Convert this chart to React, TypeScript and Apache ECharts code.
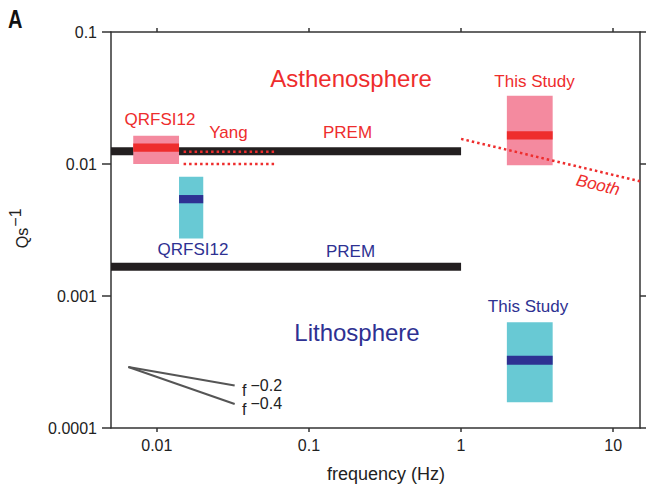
import React, { useEffect, useRef } from 'react';
import * as echarts from 'echarts';

// ---- Data (frequency in Hz, Qs^-1) ----
const freqMin = 0.005;
const freqMax = 15;
const qMin = 0.0001;
const qMax = 0.1;

const xTickValues = [0.01, 0.1, 1, 10];
const xTickLabels = ['0.01', '0.1', '1', '10'];
const yTickValues = [0.0001, 0.001, 0.01, 0.1];
const yTickLabels = ['0.0001', '0.001', '0.01', '0.1'];

// PREM reference values (Q = 80 asthenosphere, Q = 600 lithosphere)
const premAsthenosphere = [[0.005, 0.0125], [1, 0.0125]];
const premLithosphere = [[0.005, 1 / 600], [1, 1 / 600]];

// Boxes: [fLow, fHigh, qLow, qHigh]
const asthenosphereRanges = [
  [0.007, 0.014, 0.0100, 0.0164], // QRFSI12
  [2, 4, 0.0098, 0.0329], // This Study
];
const asthenosphereBest = [
  [0.007, 0.014, 0.0124, 0.0143],
  [2, 4, 0.0153, 0.0177],
];
const lithosphereRanges = [
  [0.014, 0.0202, 0.00273, 0.0080], // QRFSI12
  [2, 4, 0.000157, 0.000632], // This Study
];
const lithosphereBest = [
  [0.014, 0.0202, 0.00504, 0.00582],
  [2, 4, 0.000302, 0.000353],
];

// Yang (dotted)
const yangUpper = [[0.015, 0.0124], [0.06, 0.0124]];
const yangLower = [[0.015, 0.0100], [0.06, 0.0100]];
// Booth (dotted)
const booth = [[1, 0.0155], [15, 0.0074]];
// Reference slopes
const slopeM02 = [[0.0065, 0.00029], [0.0325, 0.00021]];
const slopeM04 = [[0.0065, 0.00029], [0.0325, 0.000152]];

// ---- Styles ----
const FONT = 'Liberation Sans, Arial, Helvetica, sans-serif';
const RED = '#ee2d2d';
const PINK = '#f48a9f';
const CYAN = '#68c9d4';
const NAVY = '#2e3192';
const AXIS = '#333333';

const fmt = (values: number[], labels: string[]) => (v: number) => {
  const i = values.findIndex((t) => Math.abs(Math.log10(v / t)) < 1e-6);
  return i >= 0 ? labels[i] : '';
};

const rectRender = (fill: string) => (params: any, api: any) => {
  const a = api.coord([api.value(0), api.value(3)]);
  const b = api.coord([api.value(1), api.value(2)]);
  return {
    type: 'rect',
    shape: { x: a[0], y: a[1], width: b[0] - a[0], height: b[1] - a[1] },
    style: { fill },
  };
};

const txt = (
  text: string,
  x: number,
  y: number,
  fill: string,
  size: number,
  extra: any = {}
) => ({
  type: 'text',
  x,
  y,
  rotation: extra.rotation || 0,
  scaleX: extra.scaleX || 1,
  silent: true,
  style: {
    text,
    fill,
    fontSize: size,
    fontFamily: FONT,
    fontWeight: extra.weight || 'normal',
    fontStyle: extra.style || 'normal',
    align: extra.align || 'center',
    verticalAlign: 'middle',
  },
});

export default function App() {
  const ref = useRef<HTMLDivElement>(null);

  useEffect(() => {
    const chart = echarts.init(ref.current!, null, { renderer: 'svg' });

    const baseX = {
      type: 'log',
      logBase: 10,
      min: freqMin,
      max: freqMax,
      splitLine: { show: false },
      minorTick: { show: false },
      axisLine: { show: true, lineStyle: { color: AXIS, width: 1.5 } },
    };
    const baseY = {
      type: 'log',
      logBase: 10,
      min: qMin,
      max: qMax,
      splitLine: { show: false },
      minorTick: { show: false },
      axisLine: { show: true, lineStyle: { color: AXIS, width: 1.5 } },
    };

    const option: any = {
      animation: false,
      backgroundColor: '#ffffff',
      grid: { left: 111, right: 6, top: 32, bottom: 58, containLabel: false, outerBoundsMode: 'none' },
      xAxis: [
        {
          ...baseX,
          position: 'bottom',
          axisTick: { show: true, length: 4, inside: false, customValues: xTickValues, lineStyle: { color: AXIS, width: 1.5 } },
          axisLabel: {
            show: true,
            margin: 9,
            fontSize: 16,
            color: '#222',
            fontFamily: FONT,
            customValues: xTickValues,
            formatter: fmt(xTickValues, xTickLabels),
          },
        },
        {
          ...baseX,
          position: 'top',
          axisTick: { show: true, length: 4, inside: false, customValues: xTickValues, lineStyle: { color: AXIS, width: 1.5 } },
          axisLabel: { show: false },
        },
      ],
      yAxis: [
        {
          ...baseY,
          position: 'left',
          axisTick: { show: true, length: 9, inside: false, customValues: yTickValues, lineStyle: { color: AXIS, width: 1.5 } },
          axisLabel: {
            show: true,
            margin: 14,
            fontSize: 16,
            color: '#222',
            fontFamily: FONT,
            customValues: yTickValues,
            formatter: fmt(yTickValues, yTickLabels),
          },
        },
        {
          ...baseY,
          position: 'right',
          axisTick: { show: true, length: 6, inside: false, customValues: yTickValues, lineStyle: { color: AXIS, width: 1.5 } },
          axisLabel: { show: false },
        },
      ],
      series: [
        {
          name: 'PREM asthenosphere',
          type: 'line',
          data: premAsthenosphere,
          symbol: 'none',
          z: 1,
          lineStyle: { color: '#231f20', width: 8, cap: 'butt' },
        },
        {
          name: 'PREM lithosphere',
          type: 'line',
          data: premLithosphere,
          symbol: 'none',
          z: 1,
          lineStyle: { color: '#231f20', width: 8, cap: 'butt' },
        },
        {
          name: 'Asthenosphere range',
          type: 'custom',
          data: asthenosphereRanges,
          z: 2,
          renderItem: rectRender(PINK),
        },
        {
          name: 'Lithosphere range',
          type: 'custom',
          data: lithosphereRanges,
          z: 2,
          renderItem: rectRender(CYAN),
        },
        {
          name: 'Asthenosphere best',
          type: 'custom',
          data: asthenosphereBest,
          z: 3,
          renderItem: rectRender(RED),
        },
        {
          name: 'Lithosphere best',
          type: 'custom',
          data: lithosphereBest,
          z: 3,
          renderItem: rectRender(NAVY),
        },
        {
          name: 'Yang upper',
          type: 'line',
          data: yangUpper,
          symbol: 'none',
          z: 4,
          lineStyle: { color: RED, width: 2.5, type: [2.5, 3] },
        },
        {
          name: 'Yang lower',
          type: 'line',
          data: yangLower,
          symbol: 'none',
          z: 4,
          lineStyle: { color: RED, width: 2.5, type: [2.5, 3] },
        },
        {
          name: 'Booth',
          type: 'line',
          data: booth,
          symbol: 'none',
          z: 4,
          lineStyle: { color: RED, width: 2.5, type: [2.5, 3] },
        },
        {
          name: 'f^-0.2',
          type: 'line',
          data: slopeM02,
          symbol: 'none',
          z: 4,
          lineStyle: { color: '#555', width: 2 },
        },
        {
          name: 'f^-0.4',
          type: 'line',
          data: slopeM04,
          symbol: 'none',
          z: 4,
          lineStyle: { color: '#555', width: 2 },
        },
      ],
      graphic: [
        txt('A', 8, 20, '#111', 25, { weight: 'bold', align: 'left', scaleX: 0.8 }),
        txt('Asthenosphere', 351, 78, RED, 24),
        txt('Lithosphere', 357, 332, NAVY, 24),
        txt('QRFSI12', 160, 119, RED, 17),
        txt('Yang', 228.5, 132, RED, 17),
        txt('PREM', 347.5, 132.5, RED, 17),
        txt('This Study', 534.5, 81, RED, 17),
        txt('Booth', 598, 185, RED, 17, { style: 'italic', rotation: (-13.5 * Math.PI) / 180 }),
        txt('QRFSI12', 193, 249.5, NAVY, 17),
        txt('PREM', 350.5, 251, NAVY, 17),
        txt('This Study', 528, 306, NAVY, 17),
        txt('f', 242, 390, '#222', 16, { align: 'left' }),
        txt('\u22120.2', 250.5, 385, '#222', 16, { align: 'left' }),
        txt('f', 242, 409.5, '#222', 16, { align: 'left' }),
        txt('\u22120.4', 250.5, 403.5, '#222', 16, { align: 'left' }),
        txt('frequency (Hz)', 386, 474, '#222', 18),
        txt('Qs', 22, 238, '#222', 16, { rotation: Math.PI / 2 }),
        txt('\u22121', 15, 217.5, '#222', 16, { rotation: Math.PI / 2 }),
      ],
    };

    chart.setOption(option);
    return () => chart.dispose();
  }, []);

  return (
    <div
      ref={ref}
      style={{ position: 'fixed', left: 0, top: 0, width: 646, height: 486 }}
    />
  );
}
